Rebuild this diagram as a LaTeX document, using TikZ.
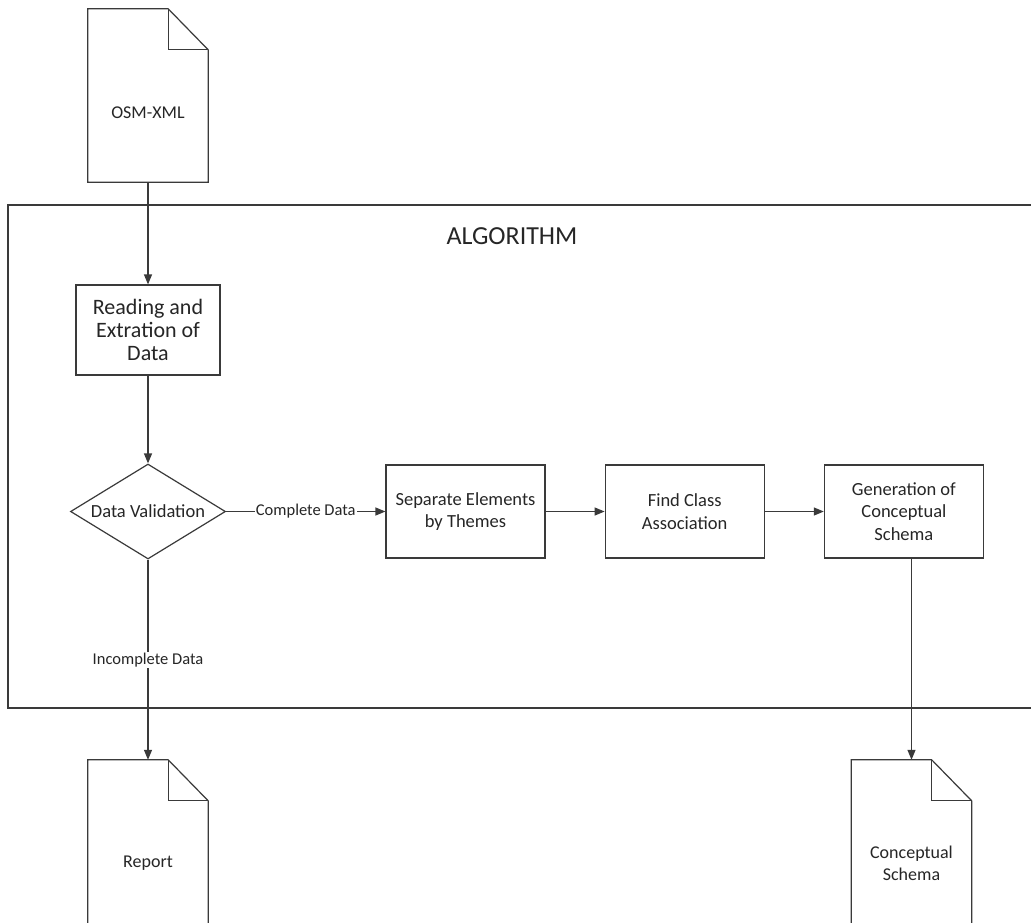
\documentclass[tikz,border=0pt]{standalone}
\usepackage{fontspec}
\setmainfont{Carlito}
\usepackage{xcolor}
\definecolor{flowline}{HTML}{3A3A3A}
\definecolor{flowtext}{HTML}{262626}
\usepackage{tikz}
\usetikzlibrary{arrows.meta,positioning,shapes.geometric,calc}
\tikzset{
  procbox/.style={draw=flowline,line width=1.2pt,fill=white,align=center,text=flowtext,minimum width=159pt,minimum height=93pt,inner sep=2pt,font=\fontsize{18.5}{22.5}\selectfont},
  decbox/.style={draw=flowline,line width=1.2pt,shape=diamond,aspect=1.63,fill=white,text=flowtext,minimum width=155pt,minimum height=95pt,inner sep=0pt,font=\fontsize{18.5}{22.5}\selectfont},
  docbox/.style={minimum width=120pt,minimum height=173pt,inner sep=0pt},
  doctext/.style={align=center,text=flowtext,font=\fontsize{18}{22.5}\selectfont},
  docline/.style={draw=flowline,line width=1.2pt,line join=miter},
  algframe/.style={draw=flowline,line width=1.2pt,minimum width=1032pt,minimum height=503pt,inner sep=0pt},
  flow/.style={draw=flowline,line width=1.2pt,-{Triangle[length=10pt,width=8pt]}},
  flowlabel/.style={fill=white,text=flowtext,inner sep=1pt,font=\fontsize{16.5}{19}\selectfont},
}
% folded-corner outline round a docbox node
\newcommand{\dogear}[1]{%
  \draw[docline] (#1.south west) -- (#1.north west) -- ([xshift=-40pt]#1.north east)
    -- ([yshift=-41pt]#1.north east) -- (#1.south east) -- cycle;
  \draw[docline] ([xshift=-40pt]#1.north east) -- ([xshift=-40pt,yshift=-41pt]#1.north east)
    -- ([yshift=-41pt]#1.north east);}
\begin{document}
\begin{tikzpicture}[x=1pt,y=-1pt]
\clip (0,0) rectangle (1031,922);
\fill[white] (0,0) rectangle (1031,922);
% algorithm frame
\node[algframe] (alg) at (524,456.5) {};
\node[text=flowtext,font=\fontsize{26}{30}\selectfont] (algtitle) at (512,236) {ALGORITHM};
% input document
\node[docbox] (osm) at (148,95.5) {};
\dogear{osm}
\node[doctext] (osmtext) at ([yshift=-17pt]osm.center) {OSM-XML};
% steps
\node[procbox,minimum width=144pt,minimum height=90pt,font=\fontsize{22}{23}\selectfont] (read) at (148,330) {Reading and\\Extration of\\Data};
\node[decbox] (valid) at (148,511.5) {Data Validation};
\node[procbox] (sep) at (465.5,511.5) {Separate Elements\\by Themes};
\node[procbox,right=59pt of sep] (find) {Find Class\\Association};
\node[procbox,right=59pt of find] (gen) {Generation of\\Conceptual\\Schema};
% output documents
\node[docbox] (report) at (148,846.5) {};
\dogear{report}
\node[doctext] (reporttext) at ([yshift=-17pt]report.center) {Report};
\node[docbox] (schema) at (911.5,846.5) {};
\dogear{schema}
\node[doctext] (schematext) at ([yshift=-17pt]schema.center) {Conceptual\\Schema};
% connectors
\draw[flow] (osm) -- (read);
\draw[flow] (read) -- (valid);
\draw[flow] (valid) -- node[flowlabel]{Complete Data} (sep);
\draw[flow] (sep) -- (find);
\draw[flow] (find) -- (gen);
\draw[flow] (valid) -- node[flowlabel]{Incomplete Data} (report);
\draw[flow] (gen.south -| schema.north) -- (schema.north);
\end{tikzpicture}
\end{document}
